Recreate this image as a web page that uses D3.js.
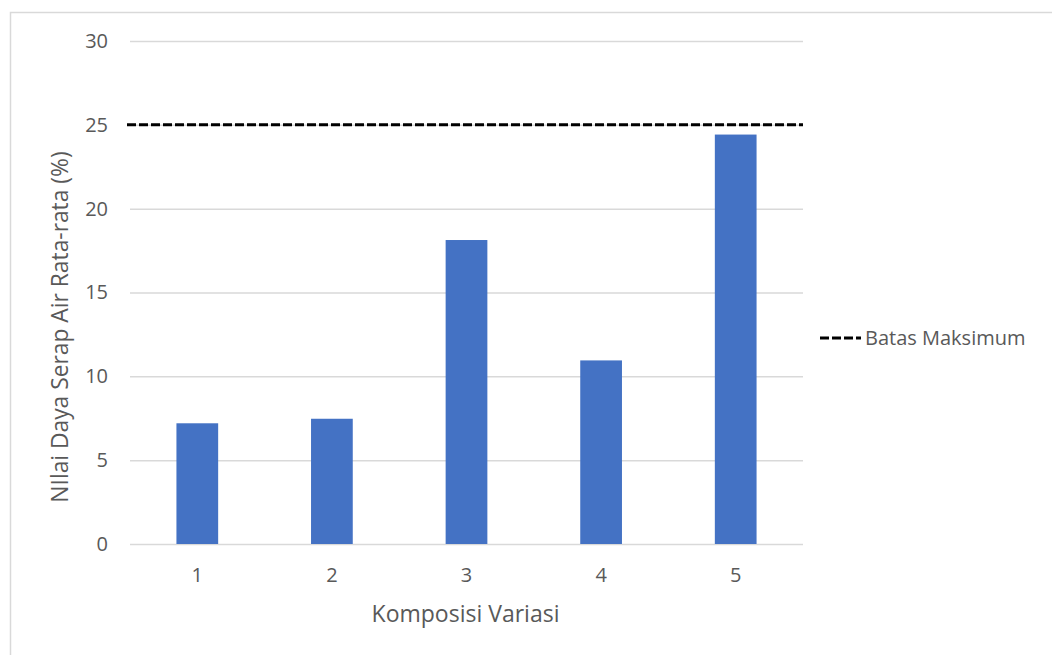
<!DOCTYPE html>
<html>
<head>
<meta charset="utf-8">
<script src="https://cdn.jsdelivr.net/npm/d3@7"></script>
<style>
  html, body { margin: 0; padding: 0; background: #fff; }
  svg { display: block; }
  text { font-family: "Open Sans", "Noto Sans", sans-serif; fill: #595959; }
</style>
</head>
<body>
<svg id="chart" width="1052" height="655"></svg>
<script>
const categories = ["1", "2", "3", "4", "5"];
const values = [7.2, 7.47, 18.13, 10.95, 24.42];
const maxLimit = 25;
const yTicks = [0, 5, 10, 15, 20, 25, 30];
const seriesName = "Batas Maksimum";
const xTitle = "Komposisi Variasi";
const yTitle = "NIlai Daya Serap Air Rata-rata (%)";

const svg = d3.select("#chart");
const W = 1052, H = 655;
const plot = { left: 130, right: 803, top: 41, bottom: 544 };

svg.append("rect").attr("x", 10.5).attr("y", 12.5).attr("width", W + 20).attr("height", H + 20)
  .attr("fill", "#fff").attr("stroke", "#d9d9d9").attr("stroke-width", 1.5);

const x = d3.scaleBand().domain(categories).range([plot.left, plot.right]).paddingInner(0.69).paddingOuter(0.345);
const y = d3.scaleLinear().domain([0, 30]).range([plot.bottom, plot.top]);

// gridlines
const yAxis = d3.axisLeft(y).tickValues(yTicks).tickSize(-(plot.right - plot.left)).tickPadding(22);
const gy = svg.append("g").attr("transform", `translate(${plot.left},0)`).call(yAxis);
gy.select(".domain").remove();
gy.selectAll(".tick line").attr("stroke", "#d9d9d9").attr("stroke-width", 1.5);
gy.selectAll(".tick text").attr("font-size", 20).attr("fill", "#595959")
  .style("font-family", '"Open Sans", sans-serif');

// bars
svg.append("g").selectAll("rect").data(values).join("rect")
  .attr("x", (d, i) => x(categories[i]))
  .attr("y", d => y(d))
  .attr("width", x.bandwidth())
  .attr("height", d => y(0) - y(d))
  .attr("fill", "#4472C4");

// x axis labels
const xAxis = d3.axisBottom(x).tickSize(0).tickPadding(24);
const gx = svg.append("g").attr("transform", `translate(0,${plot.bottom})`).call(xAxis);
gx.select(".domain").remove();
gx.selectAll(".tick text").attr("font-size", 20).attr("fill", "#595959")
  .style("font-family", '"Open Sans", sans-serif');

// max line
svg.append("line")
  .attr("x1", plot.left - 3).attr("x2", plot.right)
  .attr("y1", y(maxLimit)).attr("y2", y(maxLimit))
  .attr("stroke", "#000").attr("stroke-width", 3).attr("stroke-dasharray", "9,3");

// legend
const ly = 338;
svg.append("line").attr("x1", 820).attr("x2", 861).attr("y1", ly).attr("y2", ly)
  .attr("stroke", "#000").attr("stroke-width", 3).attr("stroke-dasharray", "9,3");
svg.append("text").attr("x", 865).attr("y", ly + 6.5).attr("font-size", 20).text(seriesName);

// axis titles
svg.append("text").attr("x", (plot.left + plot.right) / 2 - 1).attr("y", 622)
  .attr("text-anchor", "middle").attr("font-size", 23).text(xTitle);
svg.append("text").attr("transform", "translate(68,327) rotate(-90)")
  .attr("text-anchor", "middle").attr("font-size", 22.8).text(yTitle);
</script>
</body>
</html>
